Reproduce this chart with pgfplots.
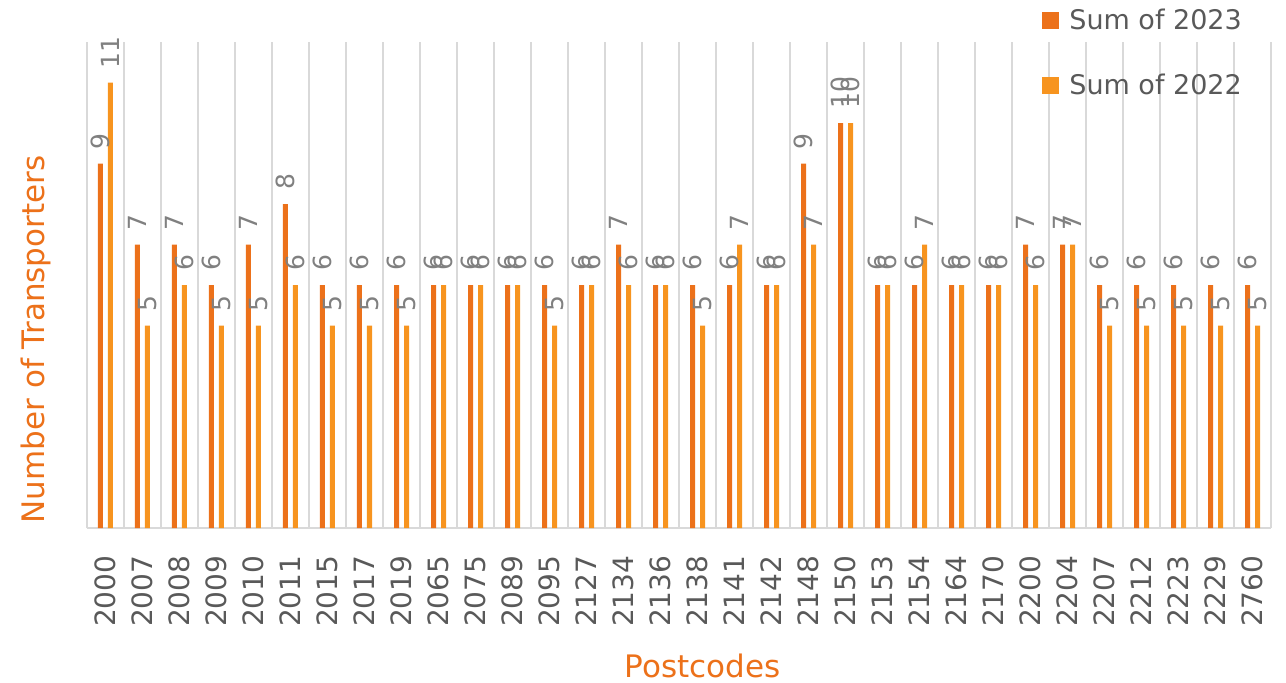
\documentclass[border=0pt]{standalone}
\usepackage{pgfplots}
\pgfplotsset{compat=1.18}
\usepackage{pgfplotstable}
\usepackage{fontspec}
\setmainfont{DejaVu Sans}

\definecolor{darkor}{RGB}{236,113,26}
\definecolor{lightor}{RGB}{247,148,31}
\definecolor{lblgray}{RGB}{128,128,128}
\definecolor{txtgray}{RGB}{89,89,89}
\definecolor{gridgray}{RGB}{217,217,217}

% postcode index, 2023, 2022
\pgfplotstableread{
x  y23 y22
0  9  11
1  7  5
2  7  6
3  6  5
4  7  5
5  8  6
6  6  5
7  6  5
8  6  5
9  6  6
10 6  6
11 6  6
12 6  5
13 6  6
14 7  6
15 6  6
16 6  5
17 6  7
18 6  6
19 9  7
20 10 10
21 6  6
22 6  7
23 6  6
24 6  6
25 7  6
26 7  7
27 6  5
28 6  5
29 6  5
30 6  5
31 6  5
}\data

\begin{document}
\begin{tikzpicture}
\useasboundingbox (-43.5pt,-77pt) rectangle (599.5pt,264pt);
\begin{axis}[
    at={(0,0)}, anchor=south west,
    scale only axis,
    width=592pt, height=243pt,
    ybar=2.5pt,
    bar width=2.5pt,
    xmin=-0.5, xmax=31.5,
    ymin=0, ymax=12,
    axis x line=bottom,
    axis y line=left,
    x axis line style={draw=gridgray, line width=0.9pt, -},
    y axis line style={draw=none},
    ytick=\empty,
    xtick=data,
    xticklabels={2000,2007,2008,2009,2010,2011,2015,2017,2019,2065,2075,2089,2095,2127,2134,2136,2138,2141,2142,2148,2150,2153,2154,2164,2170,2200,2204,2207,2212,2223,2229,2760},
    xtick style={draw=none},
    xticklabel style={rotate=90, anchor=east, inner sep=0pt, font=\fontsize{14}{14}\selectfont, text=txtgray},
    xticklabel shift=11.5pt,
    minor xtick={-0.5,0.5,...,31.5},
    xminorgrids,
    minor x tick style={draw=none},
    minor grid style={draw=gridgray, line width=0.75pt},
    xlabel={Postcodes},
    ylabel={Number of Transporters},
    label style={font=\fontsize{15.5}{15.5}\selectfont, text=darkor},
    xlabel style={at={(axis description cs:0.52,-0.3066)}, anchor=base},
    ylabel style={at={(axis description cs:-0.0363,0.388)}, anchor=base},
    /pgf/number format/assume math mode=true,
    nodes near coords,
    every node near coord/.append style={rotate=90, anchor=west, inner xsep=7pt, inner ysep=0pt,
        font=\fontsize{12.5}{12.5}\selectfont, text=lblgray},
    legend style={at={(axis description cs:0.8015,1.086)}, anchor=north west,
        draw=none, fill=none, row sep=17pt,
        /tikz/every odd column/.append style={column sep=3pt},
        font=\fontsize{13.5}{13.5}\selectfont, text=txtgray},
    legend cell align=left,
]
\addplot[fill=darkor, draw=none,
    legend image code/.code={\fill[darkor] (0pt,-4.25pt) rectangle (8.5pt,4.25pt);}]
    table[x=x, y=y23] {\data};
\addlegendentry{Sum of 2023}
\addplot[fill=lightor, draw=none,
    legend image code/.code={\fill[lightor] (0pt,-4.25pt) rectangle (8.5pt,4.25pt);}]
    table[x=x, y=y22] {\data};
\addlegendentry{Sum of 2022}
\end{axis}
\end{tikzpicture}
\end{document}
